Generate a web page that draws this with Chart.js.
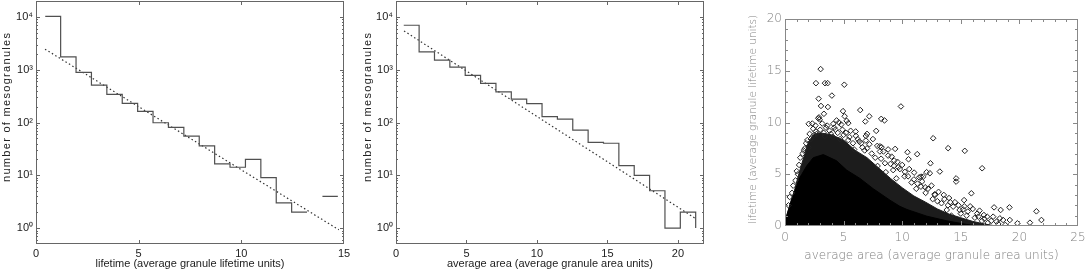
<!DOCTYPE html>
<html>
<head>
<meta charset="utf-8">
<script src="https://cdn.jsdelivr.net/npm/chart.js@4.4.1/dist/chart.umd.min.js"></script>
<style>
  html, body { margin: 0; padding: 0; background: #fff; }
  .panel { position: absolute; top: 0; }
</style>
</head>
<body>
<div class="panel" style="left:0px"><canvas id="lifeHist" width="350" height="271"></canvas></div>
<div class="panel" style="left:360px"><canvas id="areaHist" width="350" height="271"></canvas></div>
<div class="panel" style="left:720px"><canvas id="scatter" width="365" height="271"></canvas></div>
<script>
// --- left panel: lifetime histogram (bin edges, counts; 0 = empty bin)
const lifetimeEdges = [0.45, 1.2, 1.95, 2.7, 3.45, 4.2, 4.95, 5.7, 6.45, 7.2, 7.95, 8.7, 9.45, 10.2, 10.95, 11.7, 12.45, 13.2, 13.95, 14.7];
const lifetimeCounts = [10200, 1750, 890, 510, 340, 230, 163, 99, 81, 55, 36, 16.4, 14.2, 20, 9, 3, 2, 0, 4];
const lifetimeFitX = [0.44, 14.75];
const lifetimeFitY = [2450, 0.93];

// --- middle panel: area histogram
const areaEdges = [0.55, 1.64, 2.73, 3.82, 4.91, 6.0, 7.09, 8.18, 9.27, 10.36, 11.45, 12.54, 13.63, 14.72, 15.81, 16.9, 17.99, 19.08, 20.17, 21.26];
const areaCounts = [6950, 2180, 1520, 1120, 780, 550, 380, 277, 228, 129, 116, 72, 42, 40.5, 15.3, 10, 5.1, 1, 2];
const areaLastDrop = 1;
const areaFitX = [0.57, 21.2];
const areaFitY = [5430, 1.55];

const histYTicks = [1, 10, 100, 1000, 10000];
const histYLabels = ["10\u2070", "10\u00b9", "10\u00b2", "10\u00b3", "10\u2074"];

// --- right panel: area vs lifetime scatter
const scatterXTicks = [0, 5, 10, 15, 20, 25];
const scatterYTicks = [0, 5, 10, 15, 20];
// crowded region, outer edge (where diamonds overlap) and solid black core
const crowdArea = [0, 0.15, 0.5, 0.8, 1.1, 1.4, 1.7, 2.0, 2.4, 3.0, 4.0, 5.0, 6.0, 7.0, 8.0, 9.0, 10.0, 11.0, 12.0, 13.0, 14.0, 15.0, 16.0, 17.0, 18.0];
const crowdLife = [0, 1.0, 2.4, 3.4, 4.7, 5.9, 7.0, 8.1, 8.8, 9.0, 8.8, 8.3, 7.3, 6.6, 5.6, 4.6, 3.7, 2.9, 2.3, 1.65, 1.15, 0.8, 0.45, 0.2, 0];
const coreArea = [0, 0.14, 0.71, 1.28, 1.85, 2.41, 3.27, 4.4, 5.26, 6.39, 7.53, 8.95, 9.8, 10.4, 12.1, 13.8, 15.5, 16.5];
const coreLife = [0, 1.0, 3.0, 4.7, 5.8, 6.6, 6.9, 6.3, 5.4, 4.6, 3.6, 2.5, 1.9, 1.6, 0.95, 0.5, 0.15, 0];
// separate mesogranules [average area, lifetime]
const scatterPoints = [
  [3.04, 15.16], [2.64, 13.8], [3.41, 13.8], [3.64, 13.8], [5.06, 13.65], [4.0, 12.6], [2.87, 12.3],
  [3.07, 11.6], [3.66, 11.5], [9.89, 11.55], [4.95, 11.1], [6.42, 11.2], [5.09, 10.6], [7.19, 10.6],
  [8.21, 10.35], [8.49, 10.2], [6.85, 10.1], [2.02, 9.87], [2.33, 9.9], [2.9, 10.5], [2.95, 10.3],
  [3.32, 10.84], [4.6, 10.0], [4.8, 9.8], [5.26, 10.16], [5.4, 9.94], [4.12, 9.87], [2.84, 10.4],
  [3.18, 9.9], [7.78, 9.19], [6.05, 8.71], [6.03, 9.13], [6.9, 8.7], [2.64, 9.13], [2.7, 8.9],
  [12.64, 8.48], [13.92, 7.52], [15.34, 7.26], [9.4, 7.45], [10.45, 7.13], [11.28, 6.94], [10.54, 6.45],
  [9.32, 6.32], [12.41, 6.06], [16.82, 5.58], [13.21, 5.26], [11.02, 5.16], [12.08, 5.2], [12.36, 5.1],
  [11.6, 4.77], [11.8, 4.77], [14.6, 4.6], [14.6, 4.29], [11.96, 3.74], [15.9, 3.16], [12.76, 3.06],
  [13.55, 3.0], [15.28, 2.5], [16.02, 1.65], [17.84, 1.8], [18.4, 1.55], [19.15, 1.8], [16.6, 1.48],
  [16.97, 1.06], [17.25, 0.9], [17.76, 0.9], [18.33, 0.74], [18.61, 0.58], [19.18, 0.58], [18.05, 0.42],
  [19.83, 0.26], [20.9, 0.32], [21.45, 1.42], [21.88, 0.58], [14.35, 1.87], [14.9, 1.55], [13.8, 1.55],
  [13.35, 2.2], [6.34, 8.16], [6.9, 8.26], [7.87, 7.74], [8.24, 7.62], [8.1, 7.7], [8.1, 7.2],
  [9.23, 5.4], [9.66, 5.67], [8.53, 6.07], [10.23, 5.23], [11.45, 4.7], [3.5, 9.5], [4.3, 9.3],
  [4.5, 9.0], [5.0, 8.8], [5.5, 8.6], [3.8, 9.2], [1.7, 7.5], [1.5, 7.0], [1.3, 6.6], [1.8, 8.0],
  [2.2, 8.4], [2.5, 8.8], [7.0, 7.5], [7.4, 7.0], [7.7, 6.6], [8.8, 6.8], [9.0, 6.0], [9.8, 5.5],
  [10.2, 4.8], [10.8, 4.2], [11.2, 3.6], [12.0, 3.2], [12.6, 2.6], [13.0, 2.4], [13.9, 2.0],
  [14.5, 2.3], [15.0, 1.2], [15.5, 1.0], [16.2, 0.8], [16.8, 0.5], [17.3, 0.3], [15.8, 1.9],
  [14.2, 1.0], [9.5, 4.6], [8.6, 5.2], [7.9, 5.8], [6.6, 7.6], [5.8, 8.0], [5.9, 7.4], [4.7, 8.4],
  [1.1, 5.0], [0.9, 4.4], [0.6, 3.2], [0.3, 2.0],
  [1.9, 8.3], [2.1, 8.9], [2.4, 9.4], [2.6, 9.7], [3.0, 9.3], [3.3, 9.0], [3.6, 9.7], [3.9, 8.9],
  [4.2, 9.5], [4.4, 10.2], [4.9, 9.3], [5.2, 9.0], [5.6, 9.2], [6.2, 8.4], [6.5, 8.0], [7.2, 7.9],
  [7.5, 8.4], [7.0, 8.9], [8.4, 7.2], [8.8, 7.4], [9.1, 6.7], [9.6, 6.2], [10.0, 5.9], [10.6, 5.5],
  [11.0, 4.5], [11.3, 4.1], [11.7, 4.3], [12.2, 3.6], [12.5, 3.9], [13.1, 3.3], [13.6, 2.6],
  [14.0, 2.7], [14.8, 2.0], [15.2, 1.6], [15.6, 1.4], [16.4, 1.2], [17.0, 0.7], [17.6, 0.5],
  [18.2, 0.2], [18.8, 0.1], [0.4, 2.8], [0.7, 3.9], [1.0, 5.3], [1.2, 5.9], [1.6, 7.3], [2.0, 7.6],
  [3.4, 8.7], [4.1, 8.6], [5.4, 8.3], [6.8, 7.3], [8.2, 6.5], [9.3, 5.8], [10.5, 4.8], [11.6, 3.8],
  [12.8, 3.0], [14.1, 2.3], [15.3, 1.9], [16.5, 0.9]
];

// frame box with inward ticks, plus rotated y title
const framePlugin = {
  id: "frame",
  afterDatasetsDraw(chart, args, o) {
    const { ctx, chartArea: a } = chart;
    const xs = chart.scales.x;
    const ys = chart.scales.y;
    ctx.save();
    ctx.strokeStyle = o.color;
    ctx.lineWidth = 1;
    ctx.strokeRect(a.left + 0.5, a.top + 0.5, a.right - a.left - 1, a.bottom - a.top - 1);
    ctx.beginPath();
    const xTick = (vals, len) => vals.forEach((v) => {
      const p = Math.round(xs.getPixelForValue(v)) + 0.5;
      if (p <= a.left + 1 || p >= a.right - 1) return;
      ctx.moveTo(p, a.bottom); ctx.lineTo(p, a.bottom - len);
      ctx.moveTo(p, a.top); ctx.lineTo(p, a.top + len);
    });
    const yTick = (vals, len) => vals.forEach((v) => {
      const p = Math.round(ys.getPixelForValue(v)) + 0.5;
      if (p <= a.top + 1 || p >= a.bottom - 1) return;
      ctx.moveTo(a.left, p); ctx.lineTo(a.left + len, p);
      ctx.moveTo(a.right, p); ctx.lineTo(a.right - len, p);
    });
    xTick(o.xMajor, o.major);
    xTick(o.xMinor, o.minor);
    yTick(o.yMajor, o.major);
    yTick(o.yMinor, o.minor);
    ctx.stroke();

    const t = o.title;
    ctx.translate(t.x, t.y);
    ctx.rotate(-Math.PI / 2);
    ctx.font = t.font;
    ctx.fillStyle = t.color;
    ctx.letterSpacing = t.spacing;
    ctx.textAlign = "left";
    ctx.textBaseline = "middle";
    ctx.fillText(t.text, 0, 0);
    ctx.restore();
  },
};

function stepPoints(edges, counts, lastDrop) {
  const pts = [];
  counts.forEach((c, i) => {
    if (c <= 0) {
      pts.push({ x: edges[i], y: null });
      return;
    }
    pts.push({ x: edges[i], y: c });
    pts.push({ x: edges[i + 1], y: c });
  });
  if (lastDrop) pts.push({ x: edges[edges.length - 1], y: lastDrop });
  return pts;
}

function pairs(xs, ys) {
  return xs.map((x, i) => ({ x: x, y: ys[i] }));
}

const logMinor = [];
[0.1, 1, 10, 100, 1000, 10000].forEach((d) => {
  for (let k = 2; k <= 9; k++) logMinor.push(k * d);
});

const histFont = { family: "Liberation Sans", size: 11 };

function histChart(id, edges, counts, lastDrop, fitX, fitY, xMax, xTicks, xTitle, titleX) {
  new Chart(document.getElementById(id), {
    type: "line",
    data: {
      datasets: [
        {
          data: stepPoints(edges, counts, lastDrop),
          borderColor: "#505050",
          borderWidth: 1.2,
          pointRadius: 0,
          spanGaps: false,
        },
        {
          data: pairs(fitX, fitY),
          borderColor: "#333",
          borderWidth: 1.2,
          borderDash: [1.5, 2.5],
          pointRadius: 0,
        },
      ],
    },
    options: {
      animation: false,
      responsive: false,
      devicePixelRatio: 1,
      layout: { padding: { top: 1, right: 6, left: 0, bottom: 0 } },
      plugins: {
        legend: { display: false },
        tooltip: { enabled: false },
        frame: {
          color: "#666",
          major: 4,
          minor: 2,
          xMajor: xTicks,
          xMinor: [],
          yMajor: histYTicks,
          yMinor: logMinor,
          title: {
            text: "number of mesogranules",
            x: titleX,
            y: 182,
            font: "11px 'Liberation Sans'",
            color: "#222",
            spacing: "1.3px",
          },
        },
      },
      scales: {
        x: {
          type: "linear",
          min: 0,
          max: xMax,
          grid: { display: false, drawTicks: false },
          border: { display: false },
          afterBuildTicks: (s) => { s.ticks = xTicks.map((v) => ({ value: v })); },
          ticks: { padding: 3, color: "#222", font: histFont, maxRotation: 0 },
          title: { display: true, text: xTitle, color: "#222", font: histFont, padding: { top: 0, bottom: 0 } },
          afterFit: (s) => { s.height = 27; s.paddingLeft = 0; s.paddingRight = 0; },
        },
        y: {
          type: "logarithmic",
          min: 0.5,
          max: 20000,
          grid: { display: false, drawTicks: false },
          border: { display: false },
          afterBuildTicks: (s) => { s.ticks = histYTicks.map((v) => ({ value: v })); },
          ticks: {
            padding: 3,
            color: "#222",
            font: histFont,
            callback: (v, i) => histYLabels[i],
          },
          afterFit: (s) => { s.width = 36; s.paddingTop = 0; s.paddingBottom = 0; },
        },
      },
    },
    plugins: [framePlugin],
  });
}

histChart("lifeHist", lifetimeEdges, lifetimeCounts, 0, lifetimeFitX, lifetimeFitY, 15,
  [0, 5, 10, 15], "lifetime (average granule lifetime units)", 7);
histChart("areaHist", areaEdges, areaCounts, areaLastDrop, areaFitX, areaFitY, 21.85,
  [0, 5, 10, 15, 20], "average area (average granule area units)", 8);

const idlFont = { family: "DejaVu Sans", size: 12, weight: "200" };
const scatterMinorX = [];
for (let v = 1; v < 25; v++) if (v % 5) scatterMinorX.push(v);
const scatterMinorY = [];
for (let v = 1; v < 20; v++) if (v % 5) scatterMinorY.push(v);

new Chart(document.getElementById("scatter"), {
  type: "scatter",
  data: {
    datasets: [
      {
        data: scatterPoints.map((p) => ({ x: p[0], y: p[1] })),
        pointStyle: "rectRot",
        pointRadius: 2.8,
        pointBorderWidth: 1,
        pointBorderColor: "#222",
        pointBackgroundColor: "rgba(0,0,0,0)",
        order: 0,
      },
      {
        type: "line",
        data: pairs(coreArea, coreLife),
        fill: "origin",
        backgroundColor: "#000",
        borderColor: "#000",
        borderWidth: 1,
        pointRadius: 0,
        order: 1,
      },
      {
        type: "line",
        data: pairs(crowdArea, crowdLife),
        fill: "origin",
        backgroundColor: "#1c1c1c",
        borderColor: "#1c1c1c",
        borderWidth: 1,
        pointRadius: 0,
        order: 2,
      },
    ],
  },
  options: {
    animation: false,
    responsive: false,
    devicePixelRatio: 1,
    layout: { padding: { top: 19, right: 7, left: 0, bottom: 0 } },
    plugins: {
      legend: { display: false },
      tooltip: { enabled: false },
      frame: {
        color: "#888",
        major: 5,
        minor: 3,
        xMajor: scatterXTicks,
        xMinor: scatterMinorX,
        yMajor: scatterYTicks,
        yMinor: scatterMinorY,
        title: {
          text: "lifetime (average granule lifetime units)",
          x: 33,
          y: 224,
          font: "200 10.5px 'DejaVu Sans'",
          color: "#808080",
          spacing: "0px",
        },
      },
    },
    scales: {
      x: {
        type: "linear",
        min: 0,
        max: 25,
        grid: { display: false, drawTicks: false },
        border: { display: false },
        afterBuildTicks: (s) => { s.ticks = scatterXTicks.map((v) => ({ value: v })); },
        ticks: { padding: 5, color: "#808080", font: idlFont, maxRotation: 0 },
        title: {
          display: true,
          text: "average area (average granule area units)",
          color: "#808080",
          font: idlFont,
          padding: { top: 0, bottom: 8 },
        },
        afterFit: (s) => { s.height = 45; s.paddingLeft = 0; s.paddingRight = 0; },
      },
      y: {
        type: "linear",
        min: 0,
        max: 20,
        grid: { display: false, drawTicks: false },
        border: { display: false },
        afterBuildTicks: (s) => { s.ticks = scatterYTicks.map((v) => ({ value: v })); },
        ticks: { padding: 3, color: "#808080", font: idlFont },
        afterFit: (s) => { s.width = 65; s.paddingTop = 0; s.paddingBottom = 0; },
      },
    },
  },
  plugins: [framePlugin],
});
</script>
</body>
</html>
